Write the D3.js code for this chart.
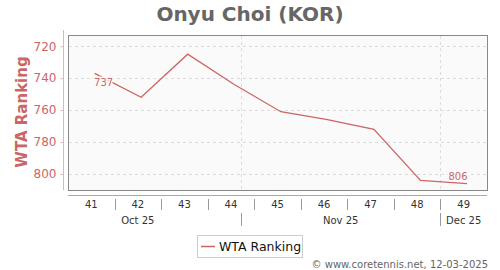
<!DOCTYPE html>
<html><head><meta charset="utf-8">
<script src="https://cdn.jsdelivr.net/npm/d3@7"></script>
<style>body{margin:0;background:#fff;}svg{display:block;font-family:"DejaVu Sans",sans-serif;}</style>
</head><body>
<svg id="c" width="500" height="270"></svg>
<script>
const title = "Onyu Choi (KOR)";
const seriesName = "WTA Ranking";
const dates = ["2025-10-10","2025-10-17","2025-10-24","2025-10-31","2025-11-07","2025-11-14","2025-11-21","2025-11-28","2025-12-05"];
const ranks = [737, 752, 725, 744, 761, 766, 772, 804, 806];
const weekLabels = ["41","42","43","44","45","46","47","48","49"];
const weekStarts = ["2025-10-06","2025-10-13","2025-10-20","2025-10-27","2025-11-03","2025-11-10","2025-11-17","2025-11-24","2025-12-01"];
const monthLabels = ["Oct 25","Nov 25","Dec 25"];
const monthStarts = ["2025-10-01","2025-11-01","2025-12-01"];
const yTicks = [720, 740, 760, 780, 800];
const yDomain = [713, 810];
const xDomain = ["2025-10-06","2025-12-08"];
const footer = "© www.coretennis.net, 12-03-2025";

const P = d3.timeParse("%Y-%m-%d");
const svg = d3.select("#c");
const L = 68, R = 487, T = 35, B = 190;
const red = "#cc6666";
const x = d3.scaleTime().domain(xDomain.map(P)).range([L, R]);
const y = d3.scaleLinear().domain(yDomain).range([T, B]);

svg.append("text").attr("x", 250).attr("y", 21).attr("text-anchor","middle")
  .attr("font-size", 20).attr("font-weight","bold").attr("fill","#666").text(title);

svg.append("rect").attr("x", L+0.5).attr("y", T+0.5).attr("width", R-L).attr("height", B-T)
  .attr("fill","#fafafa").attr("stroke","#888");

// gridlines
svg.append("g").selectAll("line").data(yTicks).join("line")
  .attr("x1", L+1).attr("x2", R).attr("y1", d=>Math.round(y(d))+0.5).attr("y2", d=>Math.round(y(d))+0.5)
  .attr("stroke","#dcdcdc").attr("stroke-dasharray","3,3");
svg.append("g").selectAll("line").data(monthStarts.map(P).filter(d=>x(d)>L)).join("line")
  .attr("x1", d=>Math.round(x(d))+0.5).attr("x2", d=>Math.round(x(d))+0.5).attr("y1", T+1).attr("y2", B)
  .attr("stroke","#dcdcdc").attr("stroke-dasharray","3,3");

// y axis
const ya = svg.append("g").attr("transform", `translate(${63.5},0)`)
  .call(d3.axisLeft(y).tickValues(yTicks).tickSize(3).tickPadding(4));
ya.select(".domain").attr("stroke","#e0b4b4").attr("d", `M0,${T-5}V${B}`);
ya.selectAll(".tick line").attr("stroke","#e0b4b4");
ya.selectAll("text").attr("fill", red).attr("font-size", 12).attr("font-family","DejaVu Sans");

svg.append("text").attr("transform","translate(27,112) rotate(-90)").attr("text-anchor","middle")
  .attr("font-size", 15).attr("font-weight","bold").attr("fill", red).text(seriesName);

// bottom axis
svg.append("line").attr("x1", L).attr("x2", R).attr("y1", 195.5).attr("y2", 195.5).attr("stroke","#aaa");
const wk = weekStarts.map(P);
svg.append("g").selectAll("line").data(wk.slice(1)).join("line")
  .attr("x1", d=>Math.round(x(d))+0.5).attr("x2", d=>Math.round(x(d))+0.5).attr("y1", 199).attr("y2", 210)
  .attr("stroke","#999");
svg.append("g").selectAll("text").data(weekLabels).join("text")
  .attr("x", (d,i)=>x(d3.timeHour.offset(wk[i], 84)))
  .attr("y", 208).attr("text-anchor","middle").attr("font-size", 10).attr("fill","#333").text(d=>d);
const ms = monthStarts.map(P);
svg.append("g").selectAll("line").data(ms.filter(d=>x(d)>L)).join("line")
  .attr("x1", d=>Math.round(x(d))+0.5).attr("x2", d=>Math.round(x(d))+0.5).attr("y1", 213).attr("y2", 226)
  .attr("stroke","#999");
const xEnd = P(xDomain[1]);
svg.append("g").selectAll("text").data(monthLabels).join("text")
  .attr("x", (d,i)=>{ const s = ms[i]; const e = d3.min([d3.timeMonth.offset(s,1), xEnd]); return (x(s)+x(e))/2; })
  .attr("y", 224).attr("text-anchor","middle").attr("font-size", 10).attr("fill","#333").text(d=>d);

// line
const pts = dates.map((d,i)=>({d:P(d), v:ranks[i]}));
svg.append("path").datum(pts).attr("fill","none").attr("stroke", red).attr("stroke-width", 1.3)
  .attr("d", d3.line().x(p=>x(p.d)).y(p=>y(p.v)));

// labels
const first = pts[0], last = pts[pts.length-1];
svg.append("text").attr("x", x(first.d)+9).attr("y", y(first.v)+13).attr("text-anchor","middle")
  .attr("font-size", 10).attr("fill", red).attr("stroke","#fafafa").attr("stroke-width",3)
  .attr("paint-order","stroke").text(first.v);
svg.append("text").attr("x", x(last.d)-9).attr("y", y(last.v)-3.5).attr("text-anchor","middle")
  .attr("font-size", 10).attr("fill", red).attr("stroke","#fafafa").attr("stroke-width",3)
  .attr("paint-order","stroke").text(last.v);

// legend
svg.append("rect").attr("x", 197.5).attr("y", 235.5).attr("width", 105).attr("height", 22)
  .attr("fill","#fff").attr("stroke","#ccc");
svg.append("line").attr("x1", 201).attr("x2", 215).attr("y1", 246.5).attr("y2", 246.5).attr("stroke", red).attr("stroke-width", 1.5);
svg.append("text").attr("x", 219).attr("y", 251).attr("font-size", 12.5).attr("fill","#111").text(seriesName);

svg.append("text").attr("x", 488).attr("y", 268).attr("text-anchor","end")
  .attr("font-size", 10).attr("fill","#666").text(footer);
</script>
</body></html>
